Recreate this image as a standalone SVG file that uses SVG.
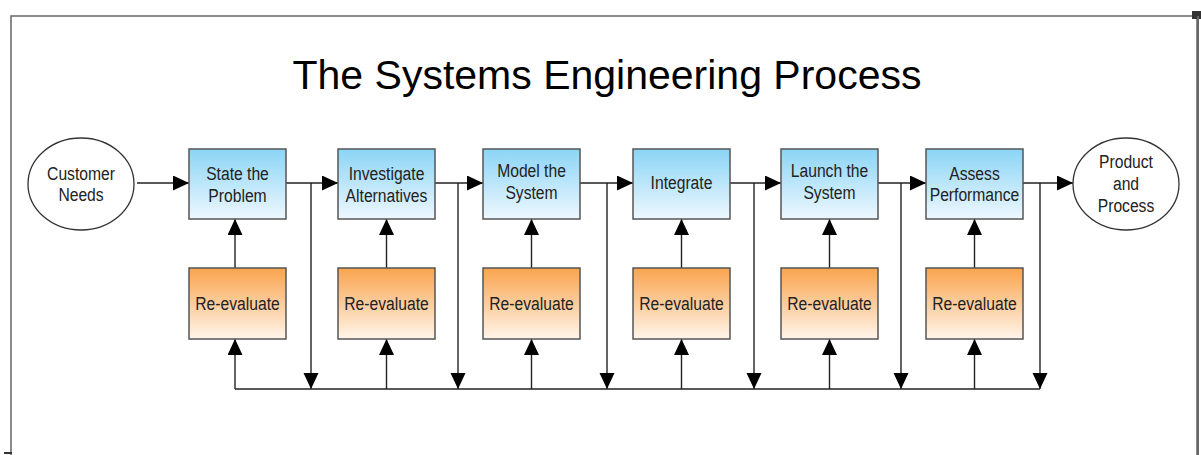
<svg xmlns="http://www.w3.org/2000/svg" width="1201" height="455" viewBox="0 0 1201 455">
<defs>
<linearGradient id="gBlue" x1="0" y1="0" x2="0" y2="1"><stop offset="0" stop-color="#8bd5f6"/><stop offset="1" stop-color="#eef8fe"/></linearGradient>
<linearGradient id="gOrange" x1="0" y1="0" x2="0" y2="1"><stop offset="0" stop-color="#f9a44e"/><stop offset="1" stop-color="#fff5ea"/></linearGradient>
<marker id="ah" markerUnits="userSpaceOnUse" markerWidth="17" markerHeight="16" refX="16" refY="7.5" orient="auto"><path d="M0,0 L16,7.5 L0,15 Z" fill="#000"/></marker>
<style>
.frame{fill:none;stroke:#666;stroke-width:1.5}
.blue{fill:url(#gBlue);stroke:#555;stroke-width:1.5}
.orange{fill:url(#gOrange);stroke:#555;stroke-width:1.5}
.ell{fill:#fff;stroke:#333;stroke-width:1.3}
.c{fill:none;stroke:#222;stroke-width:1.4}
.a{fill:none;stroke:#222;stroke-width:1.4;marker-end:url(#ah)}
.t{font-family:"Liberation Sans",Arial,sans-serif;font-size:18px;fill:#222;text-anchor:middle}
.title{font-family:"Liberation Sans",Arial,sans-serif;font-size:41px;fill:#000;text-anchor:middle}
</style>
</defs>
<rect width="1201" height="455" fill="#fff"/>
<path class="frame" d="M11,455 V16 H1197 V455"/>
<rect x="1192" y="11" width="9" height="8" fill="#333"/>
<line x1="1198" y1="16" x2="1198" y2="455" stroke="#666" stroke-width="2"/>
<line x1="4" y1="453" x2="12" y2="453" stroke="#333" stroke-width="2"/>
<text class="title" x="607" y="89">The Systems Engineering Process</text>

<g id="connectors">
<line class="a" x1="137" y1="183" x2="189" y2="183"/>
<line class="a" x1="286" y1="183" x2="338" y2="183"/>
<line class="a" x1="435" y1="183" x2="483" y2="183"/>
<line class="a" x1="580" y1="183" x2="633" y2="183"/>
<line class="a" x1="730" y1="183" x2="781" y2="183"/>
<line class="a" x1="878" y1="183" x2="926" y2="183"/>
<line class="a" x1="1023" y1="183" x2="1073" y2="183"/>
<line class="a" x1="311" y1="183" x2="311" y2="389"/>
<line class="a" x1="458" y1="183" x2="458" y2="389"/>
<line class="a" x1="607" y1="183" x2="607" y2="389"/>
<line class="a" x1="754" y1="183" x2="754" y2="389"/>
<line class="a" x1="901" y1="183" x2="901" y2="389"/>
<line class="a" x1="1040" y1="183" x2="1040" y2="389"/>
<line class="c" x1="235" y1="389" x2="1040" y2="389"/>
<line class="a" x1="235" y1="389" x2="235" y2="339"/>
<line class="a" x1="235" y1="268" x2="235" y2="219"/>
<line class="a" x1="386.5" y1="389" x2="386.5" y2="339"/>
<line class="a" x1="386.5" y1="268" x2="386.5" y2="219"/>
<line class="a" x1="531.5" y1="389" x2="531.5" y2="339"/>
<line class="a" x1="531.5" y1="268" x2="531.5" y2="219"/>
<line class="a" x1="681.5" y1="389" x2="681.5" y2="339"/>
<line class="a" x1="681.5" y1="268" x2="681.5" y2="219"/>
<line class="a" x1="829.5" y1="389" x2="829.5" y2="339"/>
<line class="a" x1="829.5" y1="268" x2="829.5" y2="219"/>
<line class="a" x1="974.5" y1="389" x2="974.5" y2="339"/>
<line class="a" x1="974.5" y1="268" x2="974.5" y2="219"/>
</g>

<g id="customer-needs">
<ellipse class="ell" cx="81" cy="184" rx="53" ry="46"/>
<text class="t" transform="translate(81,180) scale(0.87,1)">Customer</text>
<text class="t" transform="translate(81,201) scale(0.87,1)">Needs</text>
</g>
<g id="state-problem">
<rect class="blue" x="189" y="149" width="97" height="70"/>
<text class="t" transform="translate(237.5,180) scale(0.87,1)">State the</text>
<text class="t" transform="translate(237.5,202) scale(0.87,1)">Problem</text>
</g>
<g id="investigate">
<rect class="blue" x="338" y="149" width="97" height="70"/>
<text class="t" transform="translate(386.5,180) scale(0.87,1)">Investigate</text>
<text class="t" transform="translate(386.5,202) scale(0.87,1)">Alternatives</text>
</g>
<g id="model">
<rect class="blue" x="483" y="149" width="97" height="70"/>
<text class="t" transform="translate(531.5,177) scale(0.87,1)">Model the</text>
<text class="t" transform="translate(531.5,199) scale(0.87,1)">System</text>
</g>
<g id="integrate">
<rect class="blue" x="633" y="149" width="97" height="70"/>
<text class="t" transform="translate(681.5,189) scale(0.87,1)">Integrate</text>
</g>
<g id="launch">
<rect class="blue" x="781" y="149" width="97" height="70"/>
<text class="t" transform="translate(829.5,177) scale(0.87,1)">Launch the</text>
<text class="t" transform="translate(829.5,199) scale(0.87,1)">System</text>
</g>
<g id="assess">
<rect class="blue" x="926" y="149" width="97" height="70"/>
<text class="t" transform="translate(974.5,180) scale(0.87,1)">Assess</text>
<text class="t" transform="translate(974.5,201) scale(0.87,1)">Performance</text>
</g>
<g id="product-process">
<ellipse class="ell" cx="1126" cy="184" rx="53" ry="46"/>
<text class="t" transform="translate(1126,168) scale(0.87,1)">Product</text>
<text class="t" transform="translate(1126,190) scale(0.87,1)">and</text>
<text class="t" transform="translate(1126,212) scale(0.87,1)">Process</text>
</g>
<g id="reeval-1"><rect class="orange" x="189" y="268" width="97" height="71"/><text class="t" transform="translate(237.5,310) scale(0.87,1)">Re-evaluate</text></g>
<g id="reeval-2"><rect class="orange" x="338" y="268" width="97" height="71"/><text class="t" transform="translate(386.5,310) scale(0.87,1)">Re-evaluate</text></g>
<g id="reeval-3"><rect class="orange" x="483" y="268" width="97" height="71"/><text class="t" transform="translate(531.5,310) scale(0.87,1)">Re-evaluate</text></g>
<g id="reeval-4"><rect class="orange" x="633" y="268" width="97" height="71"/><text class="t" transform="translate(681.5,310) scale(0.87,1)">Re-evaluate</text></g>
<g id="reeval-5"><rect class="orange" x="781" y="268" width="97" height="71"/><text class="t" transform="translate(829.5,310) scale(0.87,1)">Re-evaluate</text></g>
<g id="reeval-6"><rect class="orange" x="926" y="268" width="97" height="71"/><text class="t" transform="translate(974.5,310) scale(0.87,1)">Re-evaluate</text></g>
</svg>
